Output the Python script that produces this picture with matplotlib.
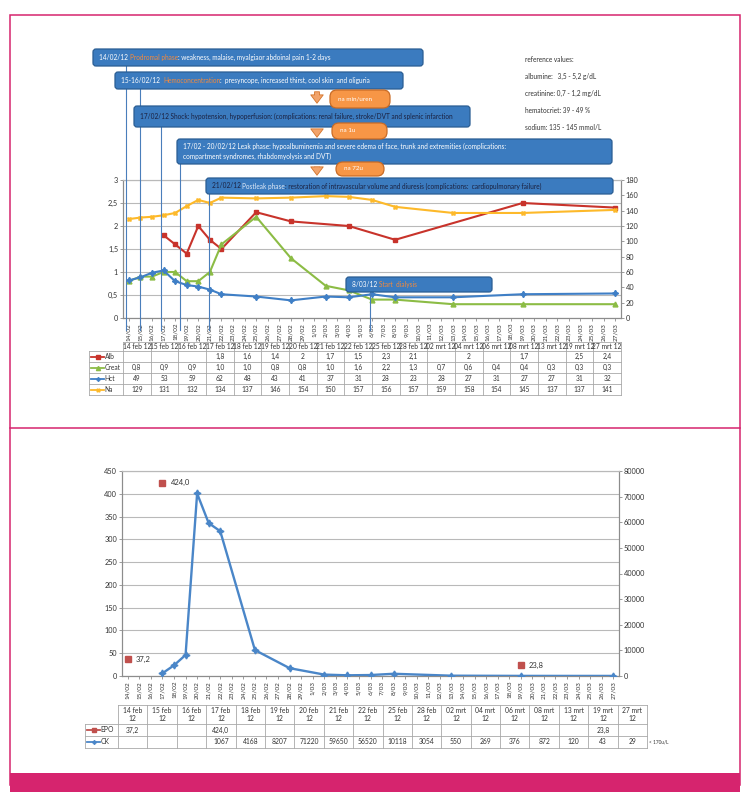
import numpy as np
import pandas as pd
import matplotlib
matplotlib.use('Agg')
import matplotlib.pyplot as plt
from matplotlib.patches import FancyBboxPatch, Rectangle
import matplotlib.transforms as mtrans

plt.rcParams['font.family'] = ['Lato', 'DejaVu Sans']

# ---------------- data ----------------
dates = ['2012-02-14', '2012-02-15', '2012-02-16', '2012-02-17', '2012-02-18',
         '2012-02-19', '2012-02-20', '2012-02-21', '2012-02-22', '2012-02-25',
         '2012-02-28', '2012-03-02', '2012-03-04', '2012-03-06', '2012-03-08',
         '2012-03-13', '2012-03-19', '2012-03-27']
col_labels = ['14 feb 12', '15 feb 12', '16 feb 12', '17 feb 12', '18 feb 12',
              '19 feb 12', '20 feb 12', '21 feb 12', '22 feb 12', '25 feb 12',
              '28 feb 12', '02 mrt 12', '04 mrt 12', '06 mrt 12', '08 mrt 12',
              '13 mrt 12', '19 mrt 12', '27 mrt 12']
alb = [None, None, None, 1.8, 1.6, 1.4, 2.0, 1.7, 1.5, 2.3, 2.1, None, 2.0, None, 1.7, None, 2.5, 2.4]
creat = [0.8, 0.9, 0.9, 1.0, 1.0, 0.8, 0.8, 1.0, 1.6, 2.2, 1.3, 0.7, 0.6, 0.4, 0.4, 0.3, 0.3, 0.3]
hct = [49, 53, 59, 62, 48, 43, 41, 37, 31, 28, 23, 28, 27, 31, 27, 27, 31, 32]
na = [129, 131, 132, 134, 137, 146, 154, 150, 157, 156, 157, 159, 158, 154, 145, 137, 137, 141]
epo = [37.2, None, None, 424.0, None, None, None, None, None, None, None, None, None, None, None, None, 23.8, None]
ck = [None, None, None, 1067, 4168, 8207, 71220, 59650, 56520, 10118, 3054, 550, 269, 376, 872, 120, 43, 29]

left_ticks_top = [0, 0.5, 1, 1.5, 2, 2.5, 3]
right_ticks_top = list(range(0, 181, 20))
left_ticks_bot = list(range(0, 451, 50))
right_ticks_bot = list(range(0, 80001, 10000))

ref_lines = ["reference values:", "albumine:   3,5 - 5,2 g/dL", "creatinine: 0,7 - 1,2 mg/dL",
             "hematocriet: 39 - 49 %", "sodium: 135 - 145 mmol/L"]

ORANGE = '#f58a3c'
WHITE = 'white'
DARK = '#1b2140'
LIGHT = '#dfe9f7'
phases = [
    [("14/02/12 ", WHITE), ("Prodromal phase", ORANGE), (": weakness, malaise, myalgiaor abdoinal pain 1-2 days", WHITE)],
    [("15-16/02/12  ", WHITE), ("Hemoconcentration", ORANGE), (":  presyncope, increased thirst, cool skin  and oliguria", WHITE)],
    [("17/02/12 Shock: hypotension, hypoperfusion: (complications: renal failure, stroke/DVT and splenic infarction", DARK)],
    [("17/02 - 20/02/12 Leak phase: hypoalbuminemia and severe edema of face, trunk and extremities (complications:\ncompartment syndromes, rhabdomyolysis and DVT)", WHITE)],
    [("21/02/12 ", DARK), ("Postleak phase", LIGHT), (": restoration of intravascular volume and diuresis (complications:  cardiopulmonary failure)", DARK)],
    [("8/03/12 ", WHITE), ("Start  dialysis", ORANGE)],
]
pills = ["na min/uren", "na 1u", "na 72u"]

# ---------------- figure ----------------
W, H = 746, 810
fig = plt.figure(figsize=(W / 100, H / 100), dpi=100)


def px_axes(l, t, r, b, **kw):
    return fig.add_axes([l / W, 1 - b / H, (r - l) / W, (b - t) / H], **kw)


start = pd.Timestamp(dates[0])
all_days = pd.date_range(dates[0], dates[-1])
day_labels = [f"{d.day}/{d.month:02d}" for d in all_days]
xd = np.array([(pd.Timestamp(d) - start).days for d in dates])


def comma(v, fmt):
    return format(v, fmt).replace('.', ',')


def sel(vals):
    m = [v is not None for v in vals]
    return xd[m], np.array([v for v in vals if v is not None], dtype=float)


GRID = '#b9b9b9'
SPINE = '#8c8c8c'
TXT = '#333333'
C_ALB, C_CREAT, C_HCT, C_NA = '#c8332b', '#8cbc45', '#3f7fc6', '#fdb92a'
C_EPO, C_CK = '#c0504d', '#4a86c8'


def style_axes(ax, axr, lt, ltl, rt, fs=5.3):
    ax.set_xlim(-0.5, len(all_days) - 0.5)
    ax.set_yticks(lt)
    ax.set_yticklabels(ltl, fontsize=fs, color=TXT)
    axr.set_yticks(rt)
    axr.set_yticklabels([str(v) for v in rt], fontsize=fs, color=TXT)
    ax.grid(axis='y', color=GRID, lw=0.8)
    ax.set_axisbelow(True)
    ax.set_xticks(range(len(all_days)))
    ax.set_xticklabels(day_labels, rotation=90, fontsize=4.6, color=TXT)
    for a in (ax, axr):
        a.spines['top'].set_color(GRID)
        a.spines['top'].set_linewidth(0.8)
        for s in ('left', 'right', 'bottom'):
            a.spines[s].set_color(SPINE)
            a.spines[s].set_linewidth(0.8)
        a.tick_params(length=2, width=0.6, color=SPINE, pad=1.5)


# top chart
ax1 = px_axes(123, 180, 621, 318)
ax1r = ax1.twinx()
ax1.set_ylim(0, 3)
ax1r.set_ylim(0, 180)
style_axes(ax1, ax1r, left_ticks_top, [comma(v, 'g') for v in left_ticks_top], right_ticks_top)
x, y = sel(alb)
ax1.plot(x, y, color=C_ALB, lw=1.5, marker='s', ms=3, zorder=3)
x, y = sel(creat)
ax1.plot(x, y, color=C_CREAT, lw=1.5, marker='^', ms=3.5, zorder=3)
x, y = sel(hct)
ax1r.plot(x, y, color=C_HCT, lw=1.5, marker=(4, 1, 0), ms=4.5, zorder=3)
x, y = sel(na)
ax1r.plot(x, y, color=C_NA, lw=1.5, marker=(4, 1, 45), ms=3.5, zorder=3)

# bottom chart
ax2 = px_axes(122, 471, 619, 676)
ax2r = ax2.twinx()
ax2.set_ylim(0, 450)
ax2r.set_ylim(0, 80000)
style_axes(ax2, ax2r, left_ticks_bot, [str(v) for v in left_ticks_bot], right_ticks_bot)
x, y = sel(ck)
ax2r.plot(x, y, color=C_CK, lw=1.7, marker=(4, 1, 0), ms=5, zorder=3)
x, y = sel(epo)
ax2.plot(x, y, ls='none', color=C_EPO, marker='s', ms=5, zorder=4)
for xi, yi in zip(x, y):
    ax2.annotate(comma(yi, '.1f'), (xi, yi), xytext=(6, 0), textcoords='offset points',
                 va='center', ha='left', fontsize=5.5, color=TXT)

# ---------------- overlay (pixel coords) ----------------
ov = fig.add_axes([0, 0, 1, 1], zorder=10)
ov.set_xlim(0, W)
ov.set_ylim(H, 0)
ov.axis('off')
ov.set_facecolor('none')
renderer = fig.canvas.get_renderer()

PINK = '#d6246e'
ov.add_patch(Rectangle((10, 15), 730, 770, fill=False, ec=PINK, lw=1.1))
ov.plot([10, 740], [428, 428], color=PINK, lw=1.1)
ov.add_patch(Rectangle((10, 773), 730, 19, fc=PINK, ec=PINK, lw=0))

# phase boxes
boxes = [(93, 49, 423, 66), (115, 72, 403, 89), (134, 106, 470, 127),
         (177, 139, 612, 164), (206, 178, 613, 194), (346, 277, 492, 292)]
vline_days = [-0.25, 0.95, 2.75, 4.45, 6.9, 20.8]
blend = mtrans.blended_transform_factory(ax1.transData, ov.transData)
for (bx0, by0, bx1, by1), d in zip(boxes, vline_days):
    ov.plot([d, d], [by1, 330], color='#4a7ebb', lw=0.8, transform=blend, zorder=1)


def text_width(s, fs):
    t = ov.text(0, 0, s + 'x', fontsize=fs)
    w1 = t.get_window_extent(renderer).width
    t.remove()
    t = ov.text(0, 0, 'x', fontsize=fs)
    w2 = t.get_window_extent(renderer).width
    t.remove()
    return w1 - w2


def seg_text(xp, yp, segments, fs):
    prefix = ''
    for s, c in segments:
        off = text_width(prefix, fs) if prefix else 0.0
        ov.text(xp + off, yp, s, color=c, fontsize=fs, va='center', ha='left', zorder=4, linespacing=1.5)
        prefix += s


for (bx0, by0, bx1, by1), segs in zip(boxes, phases):
    ov.add_patch(FancyBboxPatch((bx0, by0), bx1 - bx0, by1 - by0,
                                boxstyle='round,pad=0,rounding_size=3',
                                fc='#3b7bbf', ec='#2a5d93', lw=0.9, zorder=2))
    seg_text(bx0 + 6, (by0 + by1) / 2, segs, 4.7)

# arrows and pills
arrows = [(89, 106), (127, 140), (164, 178)]
for ya, yb in arrows:
    ov.annotate('', xy=(317, yb), xytext=(317, ya),
                arrowprops=dict(arrowstyle='simple,head_width=0.9,head_length=0.6,tail_width=0.35',
                                fc='#f2a36a', ec='#d4742a', lw=0.6), zorder=3)
pill_boxes = [(330, 90, 390, 108), (332, 123, 387, 139), (336, 162, 384, 176)]
for (px0, py0, px1, py1), s in zip(pill_boxes, pills):
    ov.add_patch(FancyBboxPatch((px0, py0), px1 - px0, py1 - py0,
                                boxstyle='round,pad=0,rounding_size=7',
                                fc='#f79646', ec='#c96b25', lw=0.9, zorder=5))
    ov.text(px0 + 8, (py0 + py1) / 2, s, color='white', fontsize=4.5, va='center', ha='left', zorder=6)

for i, s in enumerate(ref_lines):
    ov.text(525, 60 + i * 16.9, s, fontsize=4.7, color=TXT, va='center', ha='left')


# ---------------- data tables ----------------
TBL = '#a8a8a8'


def draw_table(xl, x0, x1, yh0, yh1, row_h, headers, rows, fs):
    n = len(headers)
    cw = (x1 - x0) / n
    ys = [yh1 + k * row_h for k in range(len(rows) + 1)]
    ov.plot([x0, x1], [yh0, yh0], color=TBL, lw=0.6)
    for k, yy in enumerate(ys):
        ov.plot([xl, x1], [yy, yy], color=TBL, lw=0.6)
    ov.plot([xl, xl], [yh1, ys[-1]], color=TBL, lw=0.6)
    for i in range(n + 1):
        ov.plot([x0 + i * cw, x0 + i * cw], [yh0, ys[-1]], color=TBL, lw=0.6)
    for i, h in enumerate(headers):
        ov.text(x0 + (i + 0.5) * cw, (yh0 + yh1) / 2, h, ha='center', va='center', fontsize=fs,
                color=TXT, linespacing=1.2)
    for r, (lab, col, mk, vals) in enumerate(rows):
        yc = (ys[r] + ys[r + 1]) / 2
        ov.plot([xl + 2, xl + 15], [yc, yc], color=col, lw=1.3)
        ov.plot([xl + 8.5], [yc], color=col, marker=mk, ms=3)
        ov.text(xl + 15.5, yc, lab, ha='left', va='center', fontsize=fs, color=TXT)
        for i, v in enumerate(vals):
            if v != '':
                ov.text(x0 + (i + 0.5) * cw, yc, v, ha='center', va='center', fontsize=fs, color=TXT)


def fmt_list(vals, f):
    return ['' if v is None else comma(v, f) for v in vals]


top_rows = [("Alb", C_ALB, 's', fmt_list(alb, 'g')),
            ("Creat", C_CREAT, '^', fmt_list(creat, '.1f')),
            ("Hct", C_HCT, (4, 1, 0), fmt_list(hct, 'd')),
            ("Na", C_NA, (4, 1, 45), fmt_list(na, 'd'))]
draw_table(89, 123, 621, 342, 351, 11, col_labels, top_rows, 4.8)

bot_headers = [s.rsplit(' ', 1)[0] + '\n' + s.rsplit(' ', 1)[1] for s in col_labels]
bot_rows = [("EPO", C_EPO, 's', fmt_list(epo, '.1f')),
            ("CK", C_CK, (4, 1, 0), fmt_list(ck, 'd'))]
draw_table(85, 118, 647, 705, 724, 12, bot_headers, bot_rows, 4.9)
ov.text(649, 742, "< 170u/L", fontsize=3.4, color=TXT, va='center', ha='left')

fig.savefig('out.png', dpi=100)
